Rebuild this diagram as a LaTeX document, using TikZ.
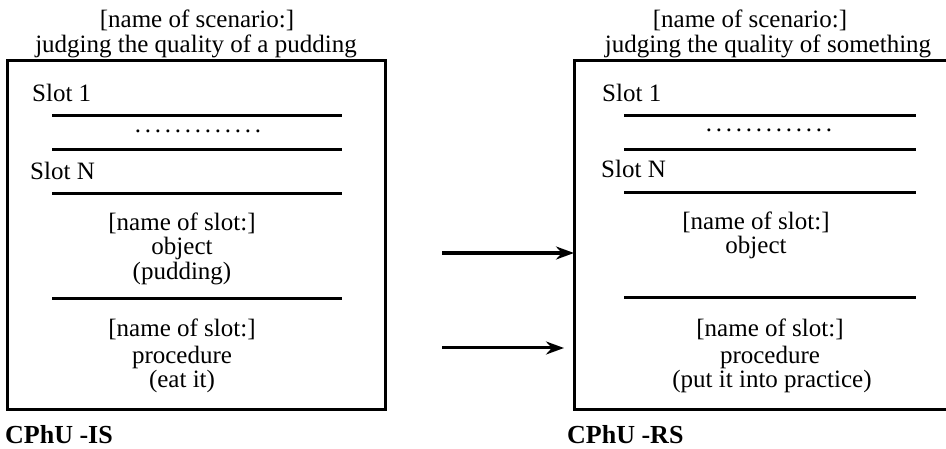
\documentclass[tikz,border=0pt]{standalone}
\usepackage{fontspec}
\setmainfont{Liberation Serif}
\usetikzlibrary{arrows.meta}
\begin{document}
\begin{tikzpicture}[x=1pt,y=-1pt,
  txt/.style={inner sep=0pt, anchor=base, font=\fontsize{25}{25}\selectfont},
  slotlbl/.style={inner sep=0pt, anchor=base west, font=\fontsize{25}{25}\selectfont},
  boxframe/.style={draw, line width=3pt, inner sep=0pt, outer sep=0pt, anchor=north west},
  sep/.style={line width=3pt},
  arr/.style={-{Stealth[length=18pt,width=13pt]}, line width=3.8pt},
  arrthin/.style={-{Stealth[length=18pt,width=13pt]}, line width=3pt},
  lbl/.style={inner sep=0pt, anchor=base west, font=\fontsize{26}{26}\selectfont\bfseries}]
\useasboundingbox (0,0) rectangle (946,449);

% ---- left unit ----
\node[boxframe, minimum width=378pt, minimum height=348pt] (boxL) at (7,61) {};
\node[txt] (tL1) at (197,28) {[name of scenario:]};
\node[txt] (tL2) at (196,53) {judging the quality of a pudding};
\node[slotlbl] (s1L) at (32,102) {Slot 1};
\draw[sep] (52,116) -- (342,116);
\node[txt] (dotsL) at (198,133) {\hbox to 130pt{\xleaders\hbox to 10pt{\hss.\hss}\hfill}};
\draw[sep] (52,150) -- (342,150);
\node[slotlbl] (snL) at (30,180) {Slot N};
\draw[sep] (52,194) -- (342,194);
\node[txt] (oL1) at (182,231) {[name of slot:]};
\node[txt] (oL2) at (182,255) {object};
\node[txt] (oL3) at (182,280) {(pudding)};
\draw[sep] (52,299) -- (342,299);
\node[txt] (pL1) at (182,337) {[name of slot:]};
\node[txt] (pL2) at (182,363) {procedure};
\node[txt] (pL3) at (182,388) {(eat it)};
\node[lbl] (cL) at (5,443) {CPhU -IS};

% ---- right unit (its right side runs past the picture's edge) ----
\node[boxframe, minimum width=430pt, minimum height=348pt] (boxR) at (574,61) {};
\node[txt] (tR1) at (750,28) {[name of scenario:]};
\node[txt] (tR2) at (768,53) {judging the quality of something};
\node[slotlbl] (s1R) at (602,102) {Slot 1};
\draw[sep] (624,116) -- (916,116);
\node[txt] (dotsR) at (769,132) {\hbox to 130pt{\xleaders\hbox to 10pt{\hss.\hss}\hfill}};
\draw[sep] (624,150) -- (916,150);
\node[slotlbl] (snR) at (601,178) {Slot N};
\draw[sep] (624,193) -- (916,193);
\node[txt] (oR1) at (756,230) {[name of slot:]};
\node[txt] (oR2) at (756,254) {object};
\draw[sep] (624,298) -- (916,298);
\node[txt] (pR1) at (770,337) {[name of slot:]};
\node[txt] (pR2) at (770,363) {procedure};
\node[txt] (pR3) at (772,387) {(put it into practice)};
\node[lbl] (cR) at (567,443) {CPhU -RS};

% ---- arrows ----
\coordinate (a1s) at (442,253);
\draw[arr] (a1s) -- (a1s -| boxR.west);
\coordinate (a2s) at (442,348);
\coordinate (a2e) at (564,348);
\draw[arrthin] (a2s) -- (a2e);
\end{tikzpicture}
\end{document}
